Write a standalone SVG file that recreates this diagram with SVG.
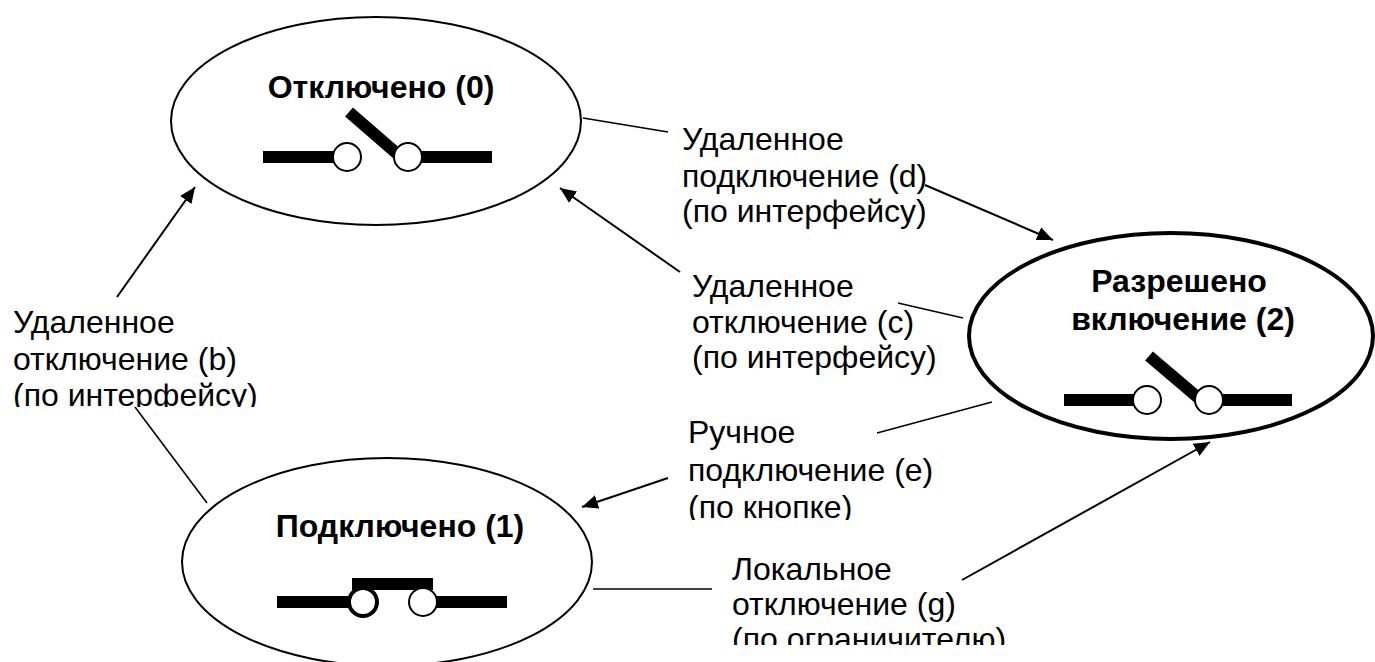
<svg xmlns="http://www.w3.org/2000/svg" width="1375" height="662" viewBox="0 0 1375 662">
<style>
.lbl{font-family:"Liberation Sans",Arial,sans-serif;font-size:32px;fill:#000}
.ttl{font-family:"Liberation Sans",Arial,sans-serif;font-size:32px;font-weight:bold;fill:#000;text-anchor:middle}
.ell{fill:#fff;stroke:#000;stroke-width:2}
.bar{stroke:#000;stroke-width:12;fill:none}
.pin{fill:#fff;stroke:#000;stroke-width:2}
.arr{stroke:#000;stroke-width:2;fill:none;marker-end:url(#ah)}
.ln{stroke:#000;stroke-width:1.5;fill:none}
</style>
<defs>
<marker id="ah" markerUnits="userSpaceOnUse" markerWidth="18" markerHeight="14" refX="16" refY="7" orient="auto">
<path d="M0,0 L16,7 L0,14 Z" fill="#000"/>
</marker>
<clipPath id="cb"><rect x="0" y="0" width="1375" height="407"/></clipPath>
<clipPath id="ce"><rect x="0" y="0" width="1375" height="520"/></clipPath>
<clipPath id="cg"><rect x="0" y="0" width="1375" height="645"/></clipPath>
</defs>
<rect width="1375" height="662" fill="#fff"/>

<g id="connectors">
<line class="ln" x1="583" y1="118" x2="668" y2="132"/>
<line class="arr" x1="925" y1="185" x2="1053" y2="240"/>
<line class="arr" x1="680" y1="272" x2="560" y2="188"/>
<line class="ln" x1="898" y1="303" x2="963" y2="318"/>
<line class="arr" x1="117" y1="297" x2="195" y2="187"/>
<line class="ln" x1="135" y1="407" x2="207" y2="503"/>
<line class="ln" x1="877" y1="433" x2="992" y2="402"/>
<line class="arr" x1="668" y1="478" x2="582" y2="507"/>
<line class="ln" x1="593" y1="589" x2="712" y2="589"/>
<line class="arr" x1="962" y1="580" x2="1210" y2="442"/>
</g>

<g id="node0">
<ellipse class="ell" cx="376" cy="121" rx="205" ry="104"/>
<text class="ttl" x="381" y="98">Отключено (0)</text>
<line class="bar" x1="263" y1="157" x2="347" y2="157"/>
<line class="bar" x1="408" y1="157" x2="492" y2="157"/>
<line class="bar" x1="349" y1="112" x2="402" y2="158"/>
<circle class="pin" cx="347" cy="157" r="14"/>
<circle class="pin" cx="408" cy="157" r="14"/>
</g>

<g id="node1">
<ellipse class="ell" cx="387" cy="562" rx="205" ry="104"/>
<text class="ttl" x="400" y="537">Подключено (1)</text>
<line class="bar" x1="277" y1="602" x2="363" y2="602"/>
<line class="bar" x1="423" y1="602" x2="507" y2="602"/>
<rect x="352" y="578" width="81" height="12" fill="#000"/>
<circle cx="363" cy="602" r="14" fill="#fff" stroke="#000" stroke-width="4"/>
<circle class="pin" cx="423" cy="602" r="14"/>
</g>

<g id="node2">
<ellipse cx="1171" cy="336" rx="202" ry="103" fill="#fff" stroke="#000" stroke-width="4"/>
<text class="ttl" x="1179" y="292">Разрешено</text>
<text class="ttl" x="1183" y="330">включение (2)</text>
<line class="bar" x1="1064" y1="400" x2="1147" y2="400"/>
<line class="bar" x1="1209" y1="400" x2="1292" y2="400"/>
<line class="bar" x1="1149" y1="356" x2="1202" y2="401"/>
<circle class="pin" cx="1147" cy="400" r="14"/>
<circle class="pin" cx="1209" cy="400" r="14"/>
</g>

<g id="label-d">
<text class="lbl" x="682" y="150">Удаленное</text>
<text class="lbl" x="682" y="187">подключение (d)</text>
<text class="lbl" x="682" y="222">(по интерфейсу)</text>
</g>
<g id="label-c">
<text class="lbl" x="692" y="297">Удаленное</text>
<text class="lbl" x="692" y="333">отключение (c)</text>
<text class="lbl" x="692" y="368">(по интерфейсу)</text>
</g>
<g id="label-b" clip-path="url(#cb)">
<text class="lbl" x="13" y="333">Удаленное</text>
<text class="lbl" x="13" y="370">отключение (b)</text>
<text class="lbl" x="13" y="406">(по интерфейсу)</text>
</g>
<g id="label-e" clip-path="url(#ce)">
<text class="lbl" x="688" y="443">Ручное</text>
<text class="lbl" x="688" y="481">подключение (e)</text>
<text class="lbl" x="688" y="518">(по кнопке)</text>
</g>
<g id="label-g" clip-path="url(#cg)">
<text class="lbl" x="732" y="580">Локальное</text>
<text class="lbl" x="732" y="615">отключение (g)</text>
<text class="lbl" x="732" y="650">(по ограничителю)</text>
</g>
</svg>
